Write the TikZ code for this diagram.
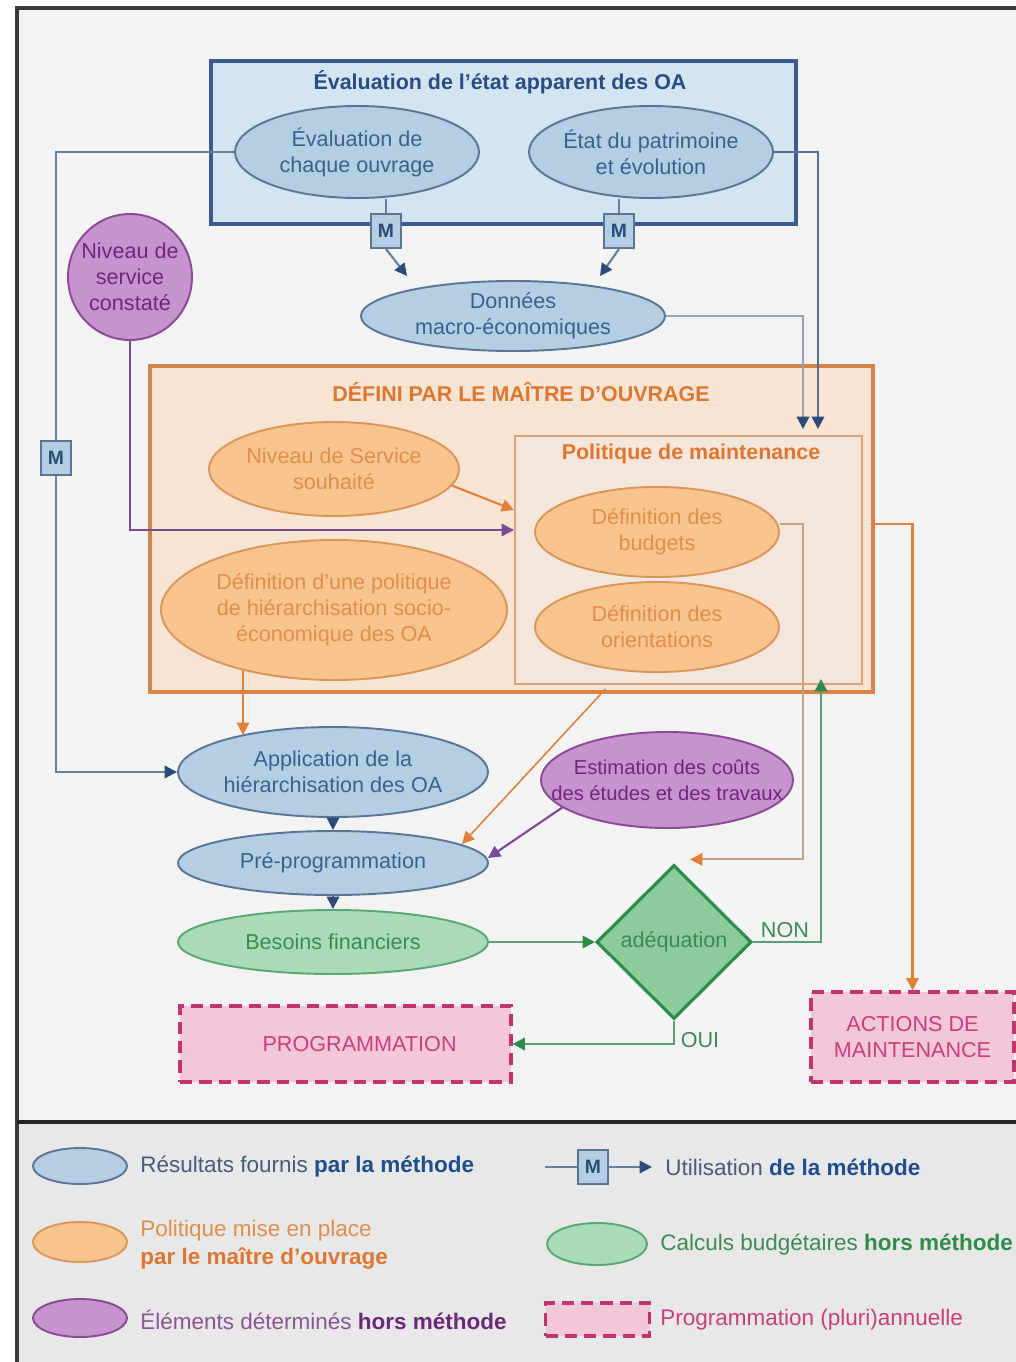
\documentclass[tikz,border=0pt]{standalone}
\usepackage{fontspec}
\setmainfont{Liberation Sans}
\usetikzlibrary{shapes.geometric,arrows.meta,calc}
\definecolor{bgtop}{HTML}{F3F3F3}
\definecolor{bgleg}{HTML}{E8E8E8}
\definecolor{frame}{HTML}{3A3A3A}
\definecolor{bboxf}{HTML}{D3E5F1}
\definecolor{bboxd}{HTML}{3B5B8E}
\definecolor{bellf}{HTML}{B4CFE4}
\definecolor{belld}{HTML}{5B7694}
\definecolor{btext}{HTML}{3E5F8C}
\definecolor{btitle}{HTML}{2B4C82}
\definecolor{oboxf}{HTML}{F8E4D2}
\definecolor{oboxd}{HTML}{D4834A}
\definecolor{polf}{HTML}{F4E6DA}
\definecolor{pold}{HTML}{DBA27C}
\definecolor{oellf}{HTML}{F7C48E}
\definecolor{oelld}{HTML}{D9955A}
\definecolor{otext}{HTML}{E08E4A}
\definecolor{otitle}{HTML}{DD7630}
\definecolor{pellf}{HTML}{C792CF}
\definecolor{pelld}{HTML}{8A4A94}
\definecolor{ptext}{HTML}{6B2A78}
\definecolor{gellf}{HTML}{A9DCB6}
\definecolor{gelld}{HTML}{5AA774}
\definecolor{gtext}{HTML}{3D8A55}
\definecolor{diaf}{HTML}{8CCB9C}
\definecolor{diad}{HTML}{2F8B4C}
\definecolor{pinkf}{HTML}{F3C6DA}
\definecolor{pinkd}{HTML}{C2346E}
\definecolor{pinkt}{HTML}{C8407A}
\definecolor{blin}{HTML}{6A7E98}
\definecolor{btip}{HTML}{2E4A78}
\definecolor{olin}{HTML}{E0803A}
\definecolor{plin}{HTML}{7A4A92}
\definecolor{glin}{HTML}{5A9E74}
\definecolor{gtip}{HTML}{2E8B4C}
\definecolor{graylin}{HTML}{9AA4B0}
\definecolor{oblin}{HTML}{C8A088}
\definecolor{legt}{HTML}{4A5A78}
\definecolor{legb}{HTML}{1F4E8C}
\tikzset{
  ell/.style 2 args={ellipse, minimum width=#1*0.02cm, minimum height=#2*0.02cm, inner sep=0pt, inner xsep=-6pt, align=center, line width=1.1pt},
  boxsz/.style 2 args={rectangle, minimum width=#1*0.02cm, minimum height=#2*0.02cm, inner sep=0pt, align=center},
  bell/.style={fill=bellf, draw=belld, text=btext},
  oell/.style={fill=oellf, draw=oelld, text=otext},
  pell/.style={fill=pellf, draw=pelld, text=ptext},
  gell/.style={fill=gellf, draw=gelld, text=gtext},
  pinkbox/.style={fill=pinkf, draw=pinkd, text=pinkt, line width=1.8pt, dash pattern=on 7pt off 4pt},
  mbox/.style={boxsz={30}{34}, fill=bellf, draw=belld, line width=1.1pt, text=btip, font=\fontsize{11}{13}\selectfont\bfseries},
  tipb/.style={-{Triangle[length=7pt,width=7pt,color=btip]}},
  tipo/.style={-{Triangle[length=7pt,width=7pt,color=olin]}},
  tipp/.style={-{Triangle[length=7pt,width=7pt,color=plin]}},
  tipg/.style={-{Triangle[length=7pt,width=7pt,color=gtip]}},
  bline/.style={draw=blin, line width=1.2pt},
  oline/.style={draw=olin, line width=1.2pt},
  pline/.style={draw=plin, line width=1.2pt},
  gline/.style={draw=glin, line width=1.4pt},
  titl/.style={font=\fontsize{12.2}{14.7}\selectfont\bfseries},
  legtxt/.style={anchor=west, inner sep=0pt, align=left, font=\fontsize{12.8}{16}\selectfont},
}
\begin{document}
\begin{tikzpicture}[x=0.02cm,y=-0.02cm, font=\fontsize{12.3}{14.7}\selectfont]
\useasboundingbox (0,0) rectangle (1016,1362);
% backgrounds
\fill[white] (0,0) rectangle (1016,1362);
\fill[bgtop] (17,8) rectangle (1016,1122);
\fill[bgleg] (17,1122) rectangle (1016,1362);
\draw[frame, line width=1.8pt] (17,1362) -- (17,8) -- (1016,8);
\draw[black!85, line width=1.8pt] (17,1122) -- (1016,1122);

% top blue box
\node[boxsz={585}{163}, fill=bboxf, draw=bboxd, line width=1.8pt] (topbox) at (503.5,142.5) {};
\node[titl, text=btitle] (toptitle) at (500,82) {Évaluation de l'état apparent des OA};
\node[ell={244}{92}, bell] (ev) at (357,152) {Évaluation de\\chaque ouvrage};
\node[ell={244}{92}, bell] (et) at (651,152) {État du patrimoine\\et évolution};

% orange big box
\node[boxsz={723}{326}, fill=oboxf, draw=oboxd, line width=1.8pt] (obox) at (511.5,529) {};
\node[titl, text=otitle] (otit) at (521,392) {DÉFINI PAR LE MAÎTRE D'OUVRAGE};
\node[boxsz={347}{248}, fill=polf, draw=pold, line width=1.1pt] (pol) at (688.5,560) {};
\node[titl, text=otitle] (poltit) at (691,454) {Politique de maintenance};

% M boxes
\node[mbox] (m1) at (386,231) {M};
\node[mbox] (m2) at (619,231) {M};
\node[mbox] (ml) at (56,458) {M};

% ellipses
\node[ell={304}{70}, bell] (don) at (513,316) {Données\\macro-économiques};
\node[ell={124}{126}, pell] (nsc) at (130,277) {Niveau de\\service\\constaté};
\node[ell={250}{94}, oell] (souh) at (334,469) {Niveau de Service\\souhaité};
\node[ell={346}{140}, oell] (defp) at (334,610) {Définition d'une politique\\de hiérarchisation socio-\\économique des OA};
\node[ell={244}{90}, oell] (bud) at (657,532) {Définition des\\budgets};
\node[ell={244}{90}, oell] (ori) at (657,627) {Définition des\\orientations};
\node[ell={310}{90}, bell] (app) at (333,772) {Application de la\\hiérarchisation des OA};
\node[ell={252}{96}, pell, inner xsep=-17pt, font=\fontsize{11.5}{14.7}\selectfont] (est) at (667,780) {Estimation des coûts\\des études et des travaux};
\node[ell={310}{64}, bell] (pre) at (333,863) {Pré-programmation};
\node[ell={310}{64}, gell] (bes) at (333,942) {Besoins financiers};
\node[diamond, minimum width=155*0.02cm, minimum height=154*0.02cm, inner sep=0pt, fill=diaf, draw=diad, line width=1.8pt, text=gtext] (dia) at (674,942) {adéquation};
\node[boxsz={331}{76}, pinkbox] (prog) at (345.5,1044) {\hspace*{16pt}PROGRAMMATION};
\node[boxsz={203}{90}, pinkbox] (act) at (912.5,1037) {ACTIONS DE\\MAINTENANCE};

% connectors
\draw[bline] (ev.west) -| (ml.north);
\draw[bline, tipb] (ml.south) |- (app.west);
\draw[bline] (ev.south -| m1) -- (m1.north);
\draw[bline] (et.south -| m2) -- (m2.north);
\draw[bline, tipb] (m1.south) -- ($(don.north)+(-106,-4)$);
\draw[bline, tipb] (m2.south) -- ($(don.north)+(87,-4)$);
\draw[draw=graylin, line width=1.3pt, tipb] (don.east) -| ($(pol.north)+(114.5,-6)$);
\draw[draw=btip!80!white, line width=1.2pt, tipb] (et.east) -| ($(pol.north)+(129.5,-6)$);
\draw[pline, tipp] (nsc.south) |- ($(pol.west)+(0,-30)$);
\draw[oline, tipo] (souh.-8) -- ($(pol.west)+(0,-50)$);
\draw[oline, tipo] ($(defp.center)+(-91,60)$) -- ($(app.center)+(-90,-37)$);
\draw[oline, line width=0.9pt, tipo] ($(pol.south)+(-83,4)$) -- ($(pre.center)+(129,-19)$);
\draw[pline, tipp] ($(est.center)+(-104,27)$) -- ($(pre.center)+(155,-5)$);
\draw[bline, tipb] (app.south) -- (pre.north);
\draw[bline, tipb] (pre.south) -- (bes.north);
\draw[gline, tipg] (bes.east) -- (dia.west);
\draw[gline, tipg] (dia.east) -| ($(pol.south)+(132.5,-6)$);
\draw[draw=oblin, line width=1.2pt, tipo] ($(bud.east)+(0,-8)$) -- ++(23,0) |- ($(dia.north)+(16,-4)$);
\draw[oline, tipo] ($(obox.east)+(0,-5)$) -| (act.north);
\draw[gline, tipg] (dia.south) |- (prog.east);
\node[text=gtext] (non) at (785,930) {NON};
\node[text=gtext] (oui) at (700,1040) {OUI};

% legend
\node[ell={94}{36}, bell] (lg1) at (80,1166) {};
\node[legtxt, text=legt] (lt1) at (140,1167) {Résultats fournis \textcolor{legb}{\textbf{par la méthode}}};
\coordinate (lm0) at (545,1167);
\node[mbox] (lm) at (593,1167) {M};
\coordinate (lm1) at (652,1167);
\draw[bline] (lm0) -- (lm.west);
\draw[bline, tipb] (lm.east) -- (lm1);
\node[legtxt, text=legt] (lt2) at (665,1167) {Utilisation \textcolor{legb}{\textbf{de la méthode}}};
\node[ell={94}{40}, oell] (lg2) at (80,1242) {};
\node[legtxt, text=otext] (lt3) at (140,1245) {Politique mise en place\\\textcolor{otitle}{\textbf{par le maître d'ouvrage}}};
\node[ell={100}{42}, gell] (lg3) at (597,1244) {};
\node[legtxt, text=gtext] (lt4) at (660,1245) {Calculs budgétaires \textcolor{gtip}{\textbf{hors méthode}}};
\node[ell={94}{38}, pell] (lg4) at (80,1318) {};
\node[legtxt, text=ptext!80!white] (lt5) at (140,1320) {Éléments déterminés \textcolor{ptext}{\textbf{hors méthode}}};
\node[boxsz={104}{33}, pinkbox] (lg5) at (597.5,1319.5) {};
\node[legtxt, text=pinkt] (lt6) at (660,1320) {Programmation (pluri)annuelle};
\end{tikzpicture}
\end{document}
